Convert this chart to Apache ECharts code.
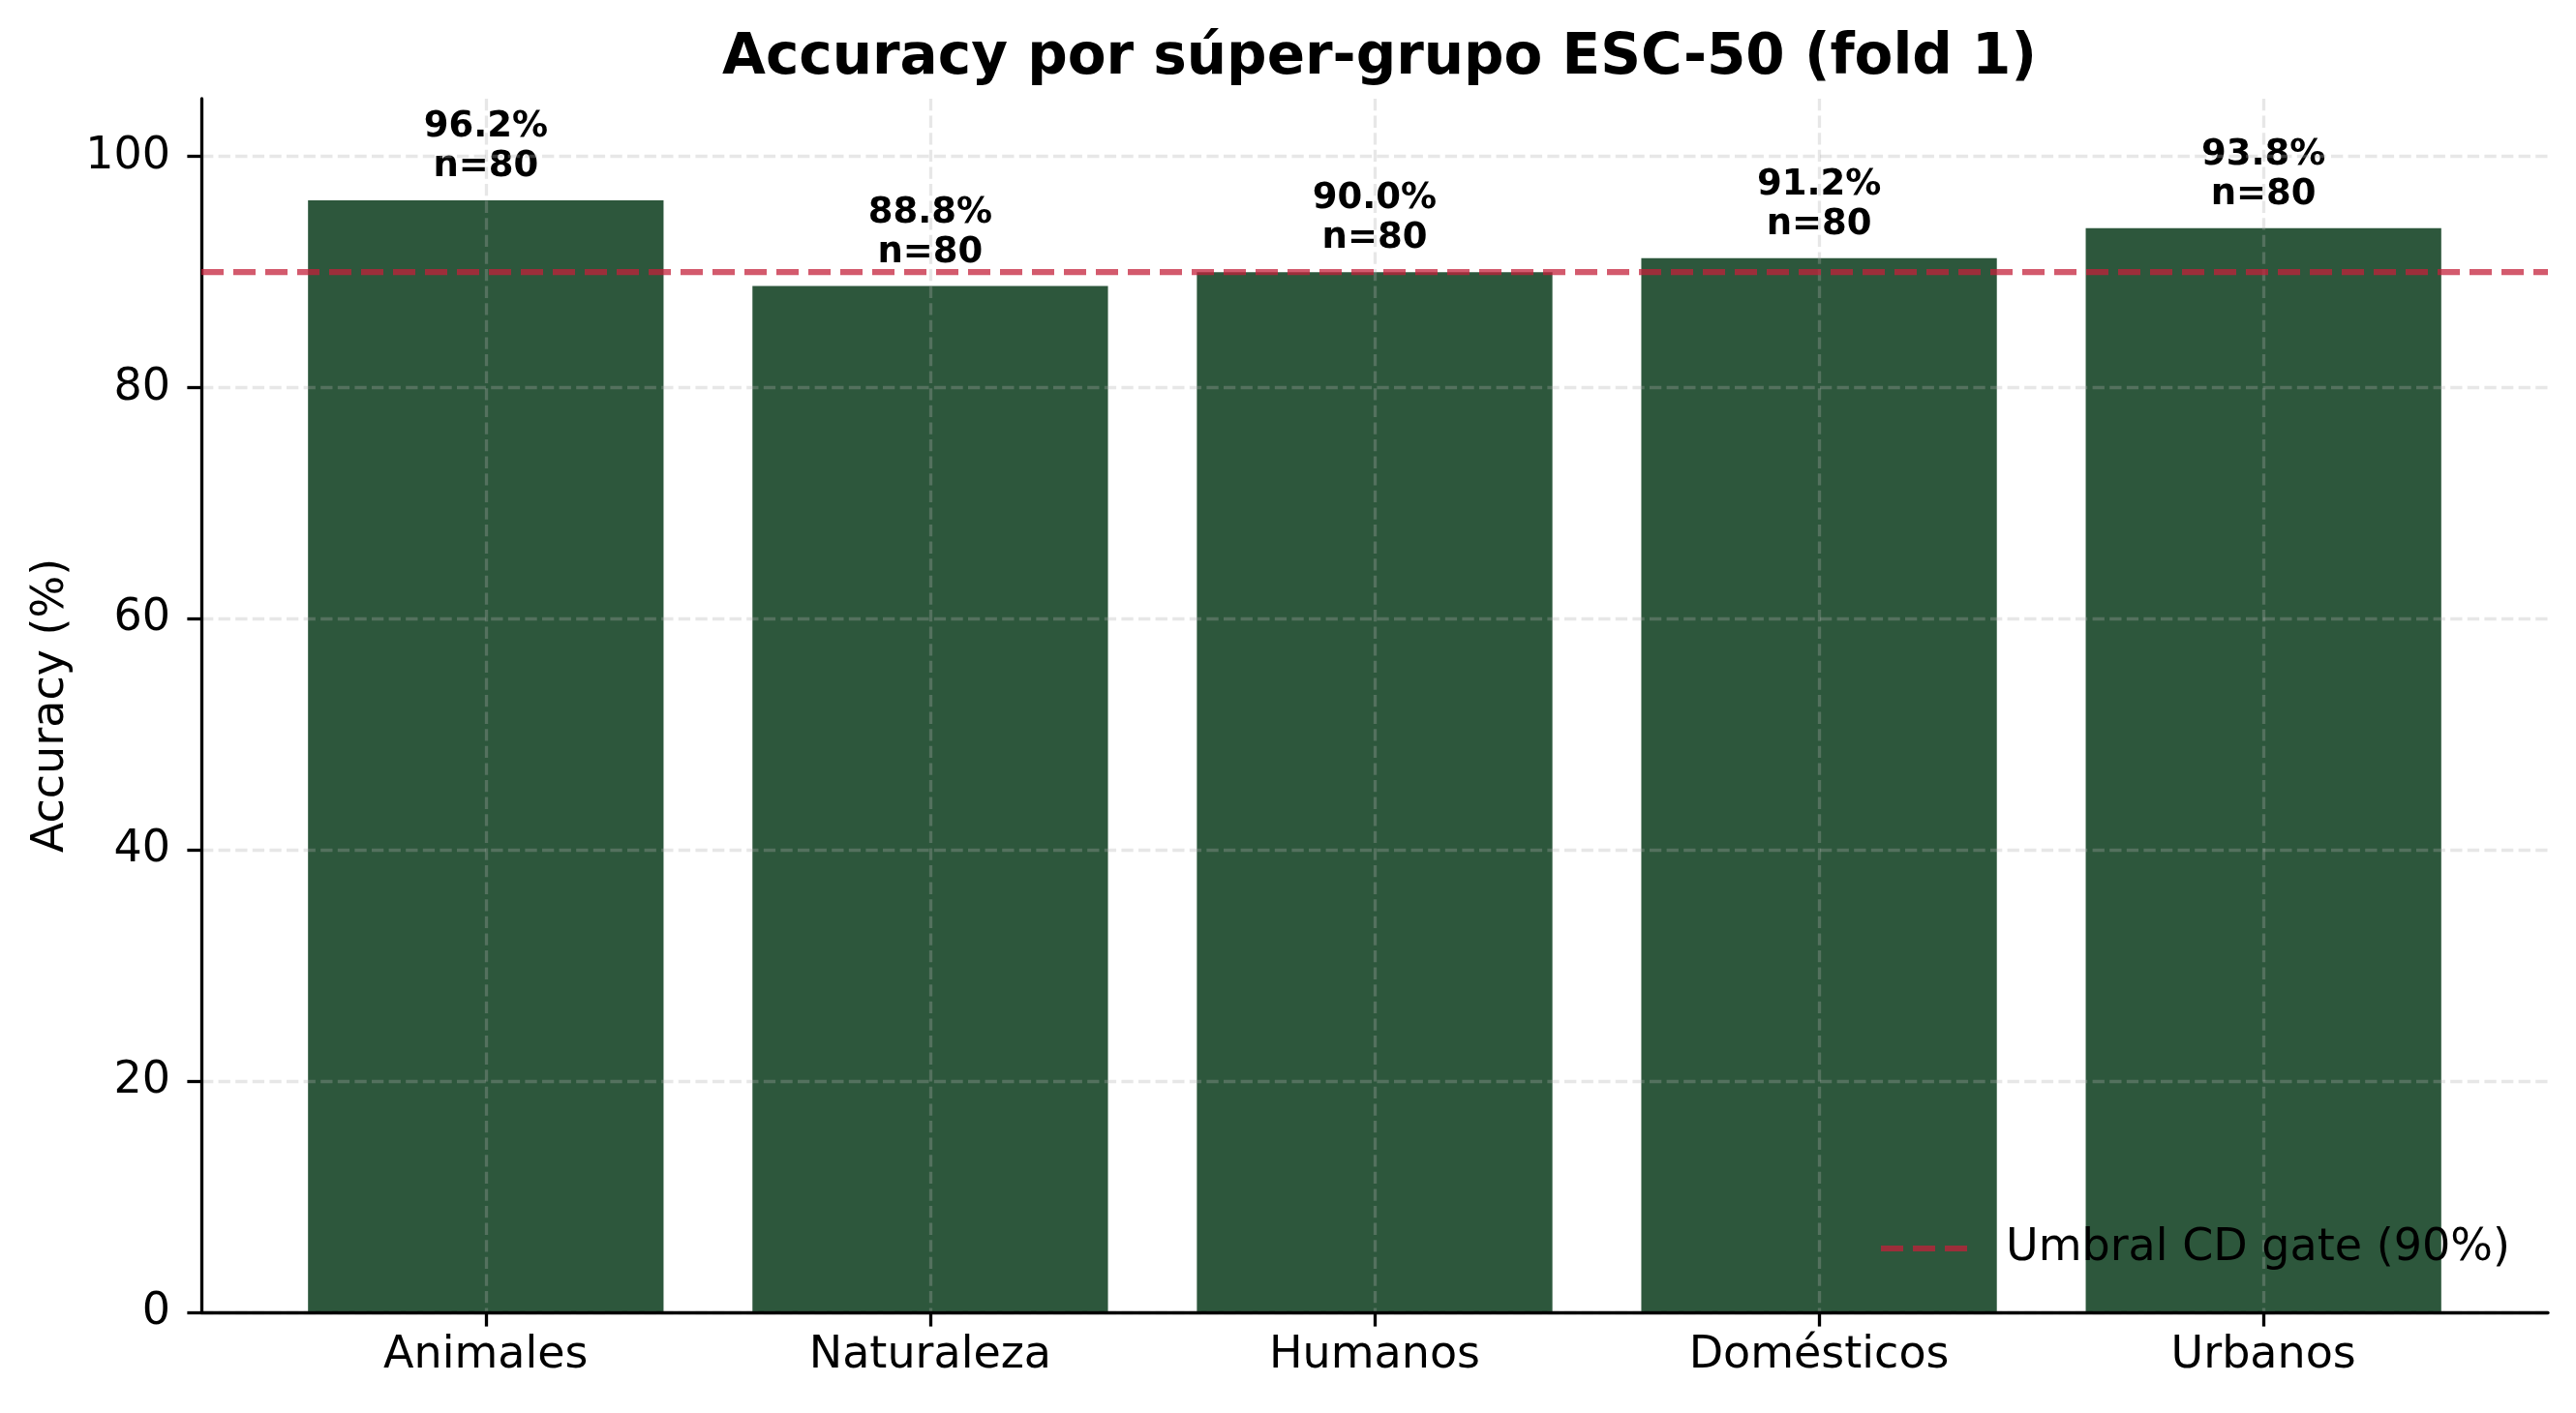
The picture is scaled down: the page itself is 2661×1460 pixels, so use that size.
<!DOCTYPE html>
<html>
<head>
<meta charset="utf-8">
<title>Accuracy por súper-grupo ESC-50</title>
<script src="https://cdn.jsdelivr.net/npm/echarts@6/dist/echarts.min.js"></script>
<style>
  html, body { margin: 0; padding: 0; background: #ffffff; }
  #chart { width: 2661px; height: 1460px; }
</style>
</head>
<body>
<div id="chart"></div>
<script>
// data
var categories = ['Animales', 'Naturaleza', 'Humanos', 'Domésticos', 'Urbanos'];
var accuracy = [96.2, 88.8, 90.0, 91.2, 93.8];
var counts = [80, 80, 80, 80, 80];
var threshold = 90;
var yTicks = [0, 20, 40, 60, 80, 100];

var FONT = 'DejaVu Sans';
var W = 2661;
var gridLeft = 208, gridRight = 29, gridTop = 102, gridBottom = 104;
var xMin = -0.64, xMax = categories.length - 1 + 0.64;
var unit = (W - gridLeft - gridRight) / (xMax - xMin);

var barData = accuracy.map(function (v, i) { return [i, v]; });
var tickIdx = categories.map(function (c, i) { return i; });

var gridLine = { color: 'rgba(176,176,176,0.3)', width: 3.3, type: [12.3, 5.3] };
var redColor = 'rgba(196,32,58,0.74)';
var redLine = { color: redColor, width: 6.25, type: [23, 10] };
// three dashes for the legend handle (scaled into itemWidth x itemHeight)
var dashIcon = 'path://M0,0h23v6h-23z M33,0h23v6h-23z M66,0h23v6h-23z';

var chart = echarts.init(document.getElementById('chart'), null, { renderer: 'canvas' });
var option = {
  backgroundColor: '#ffffff',
  animation: false,
  textStyle: { fontFamily: FONT },
  title: {
    text: 'Accuracy por súper-grupo ESC-50 (fold 1)',
    left: gridLeft + (W - gridLeft - gridRight) / 2,
    textAlign: 'center',
    top: 27,
    textStyle: { fontFamily: FONT, fontSize: 58, fontWeight: 'bold', color: '#000' }
  },
  legend: {
    data: [{ name: 'Umbral CD gate (90%)', icon: dashIcon }],
    left: 1943,
    top: 1267,
    padding: 0,
    itemWidth: 89,
    itemHeight: 6.25,
    itemStyle: { color: redColor },
    textStyle: { fontFamily: FONT, fontSize: 46, color: '#000', padding: [0, 0, 0, 35] }
  },
  grid: { left: gridLeft, right: gridRight, top: gridTop, bottom: gridBottom },
  xAxis: {
    type: 'value',
    min: xMin,
    max: xMax,
    z: 3,
    axisLine: { show: true, onZero: false, lineStyle: { color: '#000', width: 3.3 } },
    axisTick: { show: true, length: 14.6, lineStyle: { color: '#000', width: 3.3 }, customValues: tickIdx },
    axisLabel: {
      show: true, customValues: tickIdx, margin: 22,
      fontFamily: FONT, fontSize: 46, color: '#000',
      formatter: function (v) { return categories[Math.round(v)]; }
    },
    splitLine: { show: true, lineStyle: gridLine }
  },
  yAxis: {
    type: 'value',
    min: 0,
    max: 105,
    z: 3,
    name: 'Accuracy (%)',
    nameLocation: 'middle',
    nameGap: 132,
    nameTextStyle: { fontFamily: FONT, fontSize: 46, color: '#000' },
    axisLine: { show: true, onZero: false, lineStyle: { color: '#000', width: 3.3 } },
    axisTick: { show: true, length: 14.6, lineStyle: { color: '#000', width: 3.3 }, customValues: yTicks },
    axisLabel: { show: true, customValues: yTicks, margin: 32, fontFamily: FONT, fontSize: 46, color: '#000' },
    splitLine: { show: true, lineStyle: gridLine }
  },
  series: [
    {
      name: 'Accuracy',
      type: 'bar',
      data: barData,
      barWidth: 0.8 * unit,
      z: 2,
      itemStyle: { color: '#2d573c' },
      label: {
        show: true,
        position: 'top',
        distance: 14,
        fontFamily: FONT,
        fontSize: 37,
        fontWeight: 'bold',
        lineHeight: 41,
        color: '#000',
        align: 'center',
        formatter: function (p) {
          return accuracy[p.dataIndex].toFixed(1) + '%\nn=' + counts[p.dataIndex];
        }
      }
    },
    {
      name: 'Umbral CD gate (90%)',
      type: 'line',
      data: [],
      symbol: 'none',
      z: 4,
      lineStyle: redLine,
      itemStyle: { color: redColor },
      markLine: {
        silent: true,
        symbol: ['none', 'none'],
        label: { show: false },
        lineStyle: redLine,
        data: [{ yAxis: threshold }]
      }
    }
  ]
};
chart.setOption(option);
</script>
</body>
</html>
